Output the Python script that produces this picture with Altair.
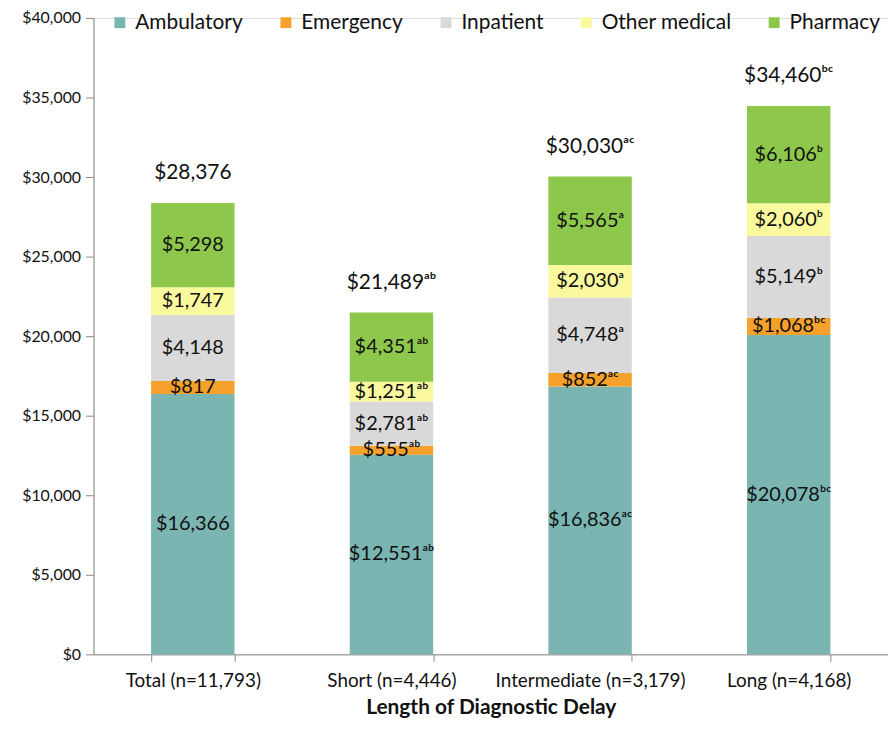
import altair as alt
import pandas as pd

categories = ["Total (n=11,793)", "Short (n=4,446)", "Intermediate (n=3,179)", "Long (n=4,168)"]
services = ["Ambulatory", "Emergency", "Inpatient", "Other medical", "Pharmacy"]
colors = ["#7AB5B2", "#F6A12B", "#D9D9D9", "#FAF99E", "#8DC84C"]

ambulatory = [16366, 12551, 16836, 20078]
emergency = [817, 555, 852, 1068]
inpatient = [4148, 2781, 4748, 5149]
other_medical = [1747, 1251, 2030, 2060]
pharmacy = [5298, 4351, 5565, 6106]

sup_ambulatory = ["", "ab", "ac", "bc"]
sup_emergency = ["", "ab", "ac", "bc"]
sup_inpatient = ["", "ab", "a", "b"]
sup_other = ["", "ab", "a", "b"]
sup_pharmacy = ["", "ab", "a", "b"]

totals = [28376, 21489, 30030, 34460]
sup_totals = ["", "ab", "ac", "bc"]

SUP = {"a": "\u1d43", "b": "\u1d47", "c": "\u1d9c"}


def lab(v, s):
    return "${:,}".format(v) + "".join(SUP[ch] for ch in s)


series = [ambulatory, emergency, inpatient, other_medical, pharmacy]
sups = [sup_ambulatory, sup_emergency, sup_inpatient, sup_other, sup_pharmacy]

rows = []
for si, (name, vals, ss) in enumerate(zip(services, series, sups)):
    for ci, cat in enumerate(categories):
        rows.append({"category": cat, "service": name, "idx": si,
                     "value": vals[ci], "label": lab(vals[ci], ss[ci])})
df = pd.DataFrame(rows)

tot_df = pd.DataFrame({
    "category": categories,
    "total": [sum(s[i] for s in series) for i in range(4)],
    "label": [lab(t, s) for t, s in zip(totals, sup_totals)],
})

FONT = "Lato"
AX = "#898989"

x_enc = alt.X("category:N", sort=categories, title="Length of Diagnostic Delay",
              scale=alt.Scale(paddingInner=0.58, paddingOuter=0.29),
              axis=alt.Axis(labelAngle=0, tickBand="extent", labelFontSize=19,
                            labelLimit=400, labelPadding=10, titleFontSize=21,
                            titleFontWeight="bold", titlePadding=6,
                            domainColor=AX, tickColor=AX, tickSize=7,
                            labelColor="#111", titleColor="#111",
                            labelFont=FONT, titleFont=FONT))

base = alt.Chart(df)

bars = base.mark_bar().encode(
    x=x_enc,
    y=alt.Y("value:Q", stack="zero", title=None,
            scale=alt.Scale(domain=[0, 40000]),
            axis=alt.Axis(values=list(range(0, 40001, 5000)), format="$,d", grid=False,
                          labelFontSize=16, domainColor=AX, tickColor=AX,
                          tickSize=8, labelPadding=5, labelColor="#111", labelFont=FONT)),
    color=alt.Color("service:N", sort=services,
                    scale=alt.Scale(domain=services, range=colors),
                    legend=alt.Legend(title=None, orient="none", direction="horizontal",
                                      legendX=16, legendY=-6, symbolType="square",
                                      symbolSize=120, symbolStrokeWidth=0,
                                      labelFontSize=21, labelFont=FONT, labelColor="#111",
                                      columnPadding=32, symbolOffset=0, labelOffset=5)),
    order=alt.Order("idx:Q", sort="ascending"),
)

seg_text = base.transform_stack(
    stack="value", groupby=["category"], as_=["v0", "v1"],
    sort=[alt.SortField("idx", order="ascending")]
).transform_calculate(
    mid="(datum.v0 + datum.v1) / 2"
).mark_text(fontSize=20, font=FONT, color="#111", baseline="middle").encode(
    x=alt.X("category:N", sort=categories),
    y=alt.Y("mid:Q"),
    text="label:N",
)

tot_text = alt.Chart(tot_df).mark_text(
    fontSize=21, font=FONT, color="#111", baseline="bottom", dy=-20
).encode(x=alt.X("category:N", sort=categories), y="total:Q", text="label:N")

chart = alt.layer(bars, seg_text, tot_text).properties(
    width=799, height=640,
    padding={"left": 13, "top": 0, "right": 0, "bottom": 0},
).configure_view(stroke=None).configure(background="white")

chart.save("out.html", embed_options={"renderer": "svg", "actions": False})
